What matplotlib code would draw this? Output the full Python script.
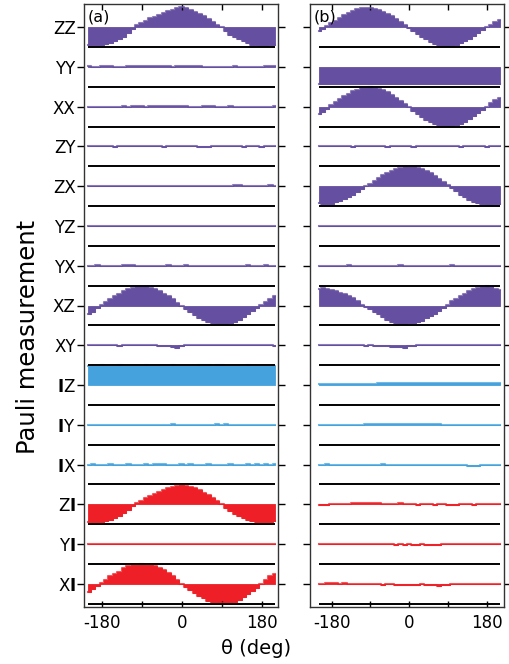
import matplotlib
matplotlib.use("Agg")
import matplotlib.pyplot as plt
import numpy as np

plt.rcParams['font.family'] = ['DejaVu Sans']
plt.rcParams['mathtext.fontset'] = 'dejavusans'

# ---------------- data ----------------
theta = [-210, -200, -190, -180, -170, -160, -150, -140, -130, -120,
         -110, -100, -90, -80, -70, -60, -50, -40, -30, -20,
         -10, 0, 10, 20, 30, 40, 50, 60, 70, 80,
         90, 100, 110, 120, 130, 140, 150, 160, 170, 180,
         190, 200, 210]

labels = ['ZZ', 'YY', 'XX', 'ZY', 'ZX', 'YZ', 'YX', 'XZ', 'XY',
          'IZ', 'IY', 'IX', 'ZI', 'YI', 'XI']

xtick_vals = [-180, -90, 0, 90, 180]
xtick_text = ['-180', '', '0', '', '180']

# panel (a)
ZZ_a = [-0.90, -0.92, -0.92, -0.90, -0.85, -0.78, -0.70, -0.60, -0.48, -0.32,
        -0.10, 0.08, 0.20, 0.33, 0.45, 0.52, 0.62, 0.72, 0.80, 0.87,
        0.95, 1.00, 0.95, 0.87, 0.78, 0.68, 0.55, 0.40, 0.28, 0.12,
        -0.02, -0.20, -0.38, -0.50, -0.60, -0.72, -0.82, -0.88, -0.92, -0.93,
        -0.93, -0.92, -0.90]
YY_a = [0.02, 0.01, 0.00, 0.02, 0.03, 0.02, 0.00, -0.01, 0.01, 0.02,
        0.03, 0.04, 0.05, 0.06, 0.05, 0.04, 0.05, 0.03, 0.02, 0.01,
        0.02, 0.04, 0.05, 0.06, 0.04, 0.02, 0.00, -0.02, -0.03, -0.02,
        -0.01, 0.00, 0.01, 0.02, 0.01, -0.01, 0.00, 0.01, 0.00, 0.01,
        0.02, 0.03, 0.02]
XX_a = [0.00, -0.02, -0.03, -0.02, -0.01, 0.00, -0.01, 0.00, 0.01, 0.00,
        0.01, 0.02, 0.01, 0.00, 0.01, 0.02, 0.03, 0.02, 0.03, 0.04,
        0.03, 0.02, 0.01, 0.00, -0.01, 0.00, 0.01, 0.02, 0.01, 0.00,
        -0.01, 0.00, 0.01, 0.00, -0.02, -0.01, 0.00, -0.02, -0.03, -0.02,
        -0.01, 0.00, 0.01]
ZY_a = [0.01, 0.02, 0.01, 0.00, 0.01, 0.00, -0.01, 0.00, 0.01, 0.02,
        0.01, 0.00, 0.00, 0.01, 0.02, 0.01, 0.00, -0.01, 0.00, 0.01,
        0.02, 0.01, 0.00, 0.01, 0.00, -0.01, -0.02, -0.01, 0.00, 0.01,
        0.00, 0.01, 0.02, 0.01, 0.00, -0.01, 0.00, 0.01, 0.00, -0.01,
        0.00, 0.01, 0.00]
ZX_a = [0.00, 0.01, 0.00, -0.01, 0.00, 0.01, 0.00, 0.02, 0.01, 0.00,
        -0.01, 0.00, 0.01, 0.02, 0.01, 0.00, 0.01, 0.00, -0.01, 0.00,
        0.01, 0.02, 0.01, 0.00, -0.01, 0.00, 0.01, 0.00, 0.01, 0.02,
        0.01, 0.00, 0.02, 0.08, 0.07, 0.02, 0.00, -0.01, 0.00, 0.01,
        0.00, 0.06, 0.01]
YZ_a = [0.01, 0.00, -0.01, 0.00, 0.01, 0.02, 0.01, 0.00, 0.01, 0.00,
        -0.01, -0.02, -0.01, 0.00, 0.01, 0.00, 0.01, 0.02, 0.01, 0.00,
        -0.01, 0.00, 0.01, 0.02, 0.01, 0.00, -0.01, -0.02, -0.01, 0.00,
        0.01, 0.00, -0.01, 0.00, 0.01, 0.00, -0.01, 0.00, 0.01, 0.02,
        0.01, 0.00, 0.01]
YX_a = [0.00, 0.01, 0.02, 0.01, 0.00, -0.01, 0.00, 0.01, 0.02, 0.03,
        0.02, 0.01, 0.00, 0.01, 0.00, -0.01, 0.00, 0.01, 0.02, 0.01,
        0.00, 0.01, 0.02, 0.01, 0.00, -0.01, -0.02, -0.01, 0.00, 0.01,
        0.00, 0.01, 0.00, -0.01, 0.00, 0.01, 0.02, 0.01, 0.00, 0.01,
        0.02, 0.01, 0.00]
XZ_a = [-0.45, -0.32, -0.15, 0.02, 0.17, 0.33, 0.47, 0.60, 0.72, 0.82,
        0.89, 0.94, 0.95, 0.93, 0.89, 0.82, 0.72, 0.60, 0.46, 0.31,
        0.15, -0.02, -0.18, -0.33, -0.48, -0.61, -0.73, -0.83, -0.90, -0.94,
        -0.95, -0.93, -0.88, -0.81, -0.71, -0.59, -0.45, -0.30, -0.14, 0.02,
        0.18, 0.34, 0.48]
XY_a = [0.00, 0.01, 0.00, -0.01, 0.00, 0.01, 0.00, -0.02, -0.01, 0.00,
        0.01, 0.00, -0.01, 0.00, 0.01, 0.00, -0.02, -0.03, -0.06, -0.10,
        -0.12, -0.04, 0.00, 0.01, 0.00, -0.01, 0.00, 0.01, 0.00, -0.01,
        0.00, 0.01, 0.00, 0.01, 0.02, 0.01, 0.00, 0.01, 0.02, 0.00,
        -0.01, 0.00, -0.03]
IZ_a = [0.97, 0.98, 0.97, 0.99, 0.98, 0.97, 0.98, 0.99, 0.98, 0.97,
        0.98, 0.97, 0.98, 0.99, 0.98, 0.97, 0.98, 0.97, 0.98, 0.99,
        0.98, 0.97, 0.98, 0.97, 0.98, 0.99, 1.00, 0.99, 0.98, 1.00,
        0.99, 0.98, 0.97, 0.98, 0.97, 0.98, 0.99, 0.98, 0.97, 0.98,
        0.97, 0.98, 0.97]
IY_a = [-0.02, -0.01, 0.00, 0.01, 0.00, -0.01, 0.00, 0.01, 0.00, -0.01,
        0.00, 0.01, 0.00, 0.00, 0.01, 0.00, -0.01, 0.00, 0.01, 0.02,
        0.01, 0.00, 0.01, 0.00, -0.01, 0.00, 0.01, 0.00, 0.01, 0.02,
        0.01, 0.02, 0.01, 0.00, 0.01, 0.00, -0.01, 0.00, 0.01, 0.00,
        -0.01, 0.00, 0.01]
IX_a = [0.00, 0.01, 0.00, -0.01, 0.00, 0.01, 0.00, -0.01, 0.00, 0.01,
        0.00, -0.01, 0.00, 0.01, 0.00, 0.01, 0.02, 0.01, 0.00, -0.01,
        0.00, 0.01, 0.00, 0.01, 0.00, -0.01, 0.00, 0.01, 0.00, -0.02,
        -0.01, 0.00, 0.01, 0.00, -0.01, 0.00, 0.01, 0.00, 0.01, 0.00,
        0.01, 0.00, 0.01]
ZI_a = [-0.88, -0.90, -0.90, -0.88, -0.84, -0.78, -0.70, -0.58, -0.45, -0.30,
        -0.10, 0.05, 0.18, 0.30, 0.42, 0.52, 0.62, 0.72, 0.80, 0.88,
        0.93, 0.95, 0.93, 0.88, 0.80, 0.70, 0.58, 0.45, 0.30, 0.15,
        0.00, -0.18, -0.35, -0.48, -0.60, -0.70, -0.80, -0.86, -0.90, -0.90,
        -0.90, -0.88, -0.86]
YI_a = [0.00, 0.01, 0.00, 0.00, 0.01, 0.00, -0.01, 0.00, 0.01, 0.00,
        0.00, -0.01, 0.00, 0.01, 0.00, 0.00, 0.01, 0.00, -0.01, 0.00,
        0.01, 0.00, 0.00, 0.01, 0.00, -0.01, 0.00, 0.00, 0.01, 0.00,
        0.00, 0.01, 0.00, -0.01, 0.00, 0.00, 0.01, 0.00, 0.00, 0.01,
        0.00, 0.00, 0.01]
XI_a = [-0.40, -0.25, -0.10, 0.05, 0.20, 0.38, 0.50, 0.62, 0.78, 0.88,
        0.95, 0.97, 0.98, 0.97, 0.95, 0.90, 0.80, 0.68, 0.55, 0.38,
        0.18, 0.00, -0.15, -0.30, -0.45, -0.60, -0.72, -0.88, -0.95, -0.97,
        -0.98, -0.97, -0.95, -0.90, -0.80, -0.68, -0.50, -0.35, -0.18, 0.02,
        0.20, 0.38, 0.50]

# panel (b)
ZZ_b = [-0.20, -0.12, 0.05, 0.20, 0.32, 0.45, 0.60, 0.72, 0.82, 0.90,
        0.95, 0.97, 0.96, 0.93, 0.88, 0.78, 0.68, 0.55, 0.40, 0.25,
        0.08, -0.05, -0.20, -0.35, -0.50, -0.62, -0.74, -0.83, -0.90, -0.93,
        -0.95, -0.93, -0.88, -0.80, -0.70, -0.58, -0.45, -0.30, -0.15, 0.00,
        0.12, 0.25, 0.35]
YY_b = [-0.86, -0.85, -0.87, -0.85, -0.84, -0.86, -0.85, -0.87, -0.86, -0.85,
        -0.84, -0.85, -0.86, -0.85, -0.87, -0.85, -0.84, -0.86, -0.85, -0.86,
        -0.85, -0.87, -0.86, -0.85, -0.84, -0.86, -0.85, -0.87, -0.86, -0.85,
        -0.84, -0.86, -0.87, -0.85, -0.86, -0.85, -0.84, -0.86, -0.85, -0.86,
        -0.85, -0.86, -0.85]
XX_b = [-0.35, -0.25, -0.10, 0.08, 0.22, 0.38, 0.52, 0.65, 0.77, 0.86,
        0.93, 0.96, 0.97, 0.95, 0.90, 0.83, 0.72, 0.60, 0.45, 0.30,
        0.12, -0.03, -0.20, -0.36, -0.52, -0.65, -0.76, -0.85, -0.92, -0.96,
        -0.97, -0.96, -0.92, -0.85, -0.76, -0.63, -0.48, -0.32, -0.15, 0.00,
        0.18, 0.35, 0.45]
ZY_b = [0.01, 0.00, 0.01, 0.02, 0.01, 0.00, 0.01, 0.00, -0.01, 0.00,
        0.01, 0.00, 0.01, 0.02, 0.01, 0.00, -0.01, 0.00, 0.01, 0.00,
        0.01, 0.00, -0.01, 0.00, 0.01, 0.00, 0.01, 0.02, 0.01, 0.00,
        0.00, 0.01, 0.00, -0.01, 0.00, 0.01, 0.00, 0.01, 0.00, -0.01,
        0.00, 0.01, 0.00]
ZX_b = [-0.85, -0.88, -0.90, -0.88, -0.82, -0.75, -0.65, -0.55, -0.42, -0.30,
        -0.15, 0.00, 0.12, 0.28, 0.42, 0.55, 0.67, 0.77, 0.86, 0.93,
        0.97, 0.98, 0.96, 0.92, 0.85, 0.76, 0.65, 0.52, 0.38, 0.22,
        0.06, -0.10, -0.26, -0.42, -0.56, -0.68, -0.78, -0.86, -0.92, -0.95,
        -0.95, -0.92, -0.88]
YZ_b = [0.00, 0.01, 0.00, -0.01, 0.00, 0.01, 0.02, 0.01, 0.00, 0.01,
        0.00, -0.01, 0.00, 0.01, 0.00, 0.01, 0.00, -0.01, -0.02, -0.01,
        0.00, 0.01, 0.00, 0.01, 0.02, 0.01, 0.00, -0.01, 0.00, 0.01,
        0.00, 0.01, 0.00, 0.01, 0.00, -0.01, 0.00, 0.01, 0.00, 0.01,
        0.00, -0.01, 0.00]
YX_b = [0.01, 0.00, 0.01, 0.00, -0.01, 0.00, 0.01, 0.02, 0.01, 0.00,
        0.01, 0.00, 0.01, 0.00, -0.01, 0.00, 0.01, 0.00, 0.01, 0.02,
        0.01, 0.00, 0.01, 0.00, -0.01, 0.00, 0.01, 0.00, 0.01, 0.00,
        0.01, 0.02, 0.01, 0.00, 0.01, 0.00, -0.01, 0.00, 0.01, 0.00,
        0.01, 0.00, 0.01]
XZ_b = [0.85, 0.86, 0.85, 0.80, 0.72, 0.65, 0.58, 0.50, 0.38, 0.25,
        0.05, -0.10, -0.18, -0.35, -0.45, -0.60, -0.75, -0.82, -0.87, -0.92,
        -0.93, -0.90, -0.88, -0.85, -0.78, -0.65, -0.55, -0.42, -0.30, -0.12,
        0.02, 0.22, 0.35, 0.50, 0.60, 0.72, 0.82, 0.90, 0.95, 0.96,
        0.93, 0.85, 0.78]
XY_b = [0.01, 0.00, 0.01, 0.00, 0.01, 0.00, -0.01, 0.00, 0.01, 0.00,
        -0.01, -0.02, -0.01, -0.03, -0.04, -0.02, -0.05, -0.08, -0.10, -0.08,
        -0.12, -0.05, -0.02, 0.00, 0.01, 0.00, -0.01, 0.00, 0.01, 0.02,
        0.01, 0.00, 0.01, 0.02, 0.01, 0.00, -0.01, 0.00, 0.01, 0.00,
        -0.01, 0.00, 0.01]
IZ_b = [0.04, 0.04, 0.05, 0.04, 0.04, 0.05, 0.04, 0.05, 0.04, 0.05,
        0.05, 0.06, 0.05, 0.06, 0.08, 0.09, 0.10, 0.10, 0.09, 0.10,
        0.10, 0.09, 0.10, 0.10, 0.10, 0.09, 0.10, 0.10, 0.10, 0.09,
        0.10, 0.10, 0.10, 0.09, 0.10, 0.10, 0.10, 0.10, 0.09, 0.10,
        0.10, 0.10, 0.10]
IY_b = [0.00, -0.01, 0.00, 0.00, -0.01, -0.02, -0.01, 0.00, 0.00, 0.01,
        0.01, 0.02, 0.02, 0.03, 0.04, 0.05, 0.04, 0.04, 0.03, 0.04,
        0.05, 0.04, 0.04, 0.03, 0.04, 0.03, 0.02, 0.03, 0.02, 0.01,
        0.01, 0.00, 0.01, 0.00, 0.00, -0.01, 0.00, 0.00, -0.01, -0.02,
        -0.01, 0.00, 0.00]
IX_b = [0.00, 0.00, 0.01, 0.00, -0.01, -0.02, -0.01, 0.00, -0.04, -0.02,
        0.00, 0.00, -0.01, 0.00, 0.00, 0.01, 0.00, -0.01, 0.00, 0.00,
        -0.01, 0.00, 0.00, -0.01, 0.00, 0.00, -0.01, -0.02, -0.04, -0.02,
        -0.01, 0.00, -0.01, -0.02, -0.03, -0.05, -0.06, -0.05, -0.03, -0.01,
        0.00, 0.00, 0.00]
ZI_b = [-0.02, -0.03, -0.01, 0.00, 0.01, 0.02, 0.03, 0.04, 0.05, 0.05,
        0.06, 0.05, 0.06, 0.07, 0.05, 0.04, 0.03, 0.02, 0.03, 0.05,
        0.04, 0.01, 0.00, -0.01, 0.00, 0.01, 0.00, -0.01, 0.00, 0.00,
        -0.02, -0.04, -0.02, 0.00, 0.01, 0.00, -0.01, 0.00, 0.01, 0.00,
        0.00, 0.01, 0.00]
YI_b = [0.00, 0.01, 0.00, 0.00, 0.01, 0.00, 0.00, -0.01, 0.00, 0.00,
        -0.01, 0.00, 0.00, -0.01, -0.01, -0.01, 0.00, -0.01, -0.02, -0.01,
        -0.02, -0.01, -0.02, -0.02, -0.01, -0.02, -0.03, -0.02, -0.02, -0.01,
        -0.01, 0.00, 0.00, 0.01, 0.00, 0.00, 0.01, 0.00, 0.01, 0.01,
        0.02, 0.01, 0.00]
XI_b = [0.00, 0.01, 0.03, 0.05, 0.04, 0.02, 0.03, 0.02, 0.01, 0.00,
        0.01, 0.00, 0.00, -0.01, -0.02, -0.03, -0.02, -0.01, -0.03, -0.05,
        -0.04, -0.03, -0.04, -0.03, -0.02, -0.04, -0.05, -0.07, -0.08, -0.06,
        -0.03, -0.02, -0.01, 0.00, -0.01, -0.02, -0.01, 0.00, 0.00, 0.01,
        0.00, 0.00, 0.01]

series_a = [ZZ_a, YY_a, XX_a, ZY_a, ZX_a, YZ_a, YX_a, XZ_a, XY_a,
            IZ_a, IY_a, IX_a, ZI_a, YI_a, XI_a]
series_b = [ZZ_b, YY_b, XX_b, ZY_b, ZX_b, YZ_b, YX_b, XZ_b, XY_b,
            IZ_b, IY_b, IX_b, ZI_b, YI_b, XI_b]

# ---------------- style ----------------
PURPLE = '#654fa0'
BLUE = '#45a2dc'
RED = '#ee1f26'
row_colors = [PURPLE] * 9 + [BLUE] * 3 + [RED] * 3

W, H = 509, 664
fig = plt.figure(figsize=(W / 100, H / 100), dpi=100)
top_px, bot_px = 4, 607
axa = fig.add_axes([84 / W, 1 - bot_px / H, (278 - 84) / W, (bot_px - top_px) / H])
axb = fig.add_axes([310 / W, 1 - bot_px / H, (504 - 310) / W, (bot_px - top_px) / H])

th = np.array(theta, dtype=float)
nrows = len(labels)
bases = [-2.0 * k for k in range(nrows)]


def tick_label(s):
    # the identity "I" is printed heavier in the original
    return ''.join(r'$\mathbf{I}$' if ch == 'I' else ch for ch in s)


def draw(ax, series, xlim, tag, show_labels):
    for k, vals in enumerate(series):
        base = bases[k]
        y = base + np.array(vals)
        c = row_colors[k]
        ax.fill_between(th, base, y, step='mid', color=c, lw=0.6, edgecolor=c)
        ax.step(th, y, where='mid', color=c, lw=1.5, alpha=0.75)
        ax.hlines(base - 1, th[0], th[-1], color='black', lw=1.4, zorder=3)
    ax.set_xlim(*xlim)
    ax.set_ylim(bases[-1] - 1.16, 1.16)
    ax.set_yticks(bases)
    ax.set_yticklabels([tick_label(l) for l in labels] if show_labels else [])
    ax.tick_params(axis='y', direction='out', length=5, width=1,
                   left=True, right=True, labelleft=show_labels,
                   labelsize=12, pad=1, colors='black')
    ax.set_xticks(xtick_vals)
    ax.set_xticklabels(xtick_text)
    ax.tick_params(axis='x', direction='in', length=4, width=1,
                   top=True, bottom=True, labelsize=12, pad=5)
    for s in ax.spines.values():
        s.set_linewidth(1.0)
        s.set_color('#333333')
    ax.text(0.02, 0.978, tag, transform=ax.transAxes, ha='left', va='center',
            fontsize=11.5)


draw(axa, series_a, (-220, 217), '(a)', True)
draw(axb, series_b, (-230, 220), '(b)', False)

fig.text(28 / W, 1 - 337 / H, 'Pauli measurement', rotation=90,
         ha='center', va='center', fontsize=17.5)
fig.text(256 / W, 1 - 648 / H, 'θ (deg)', ha='center', va='center',
         fontsize=14)

fig.savefig('out.png', dpi=100)
